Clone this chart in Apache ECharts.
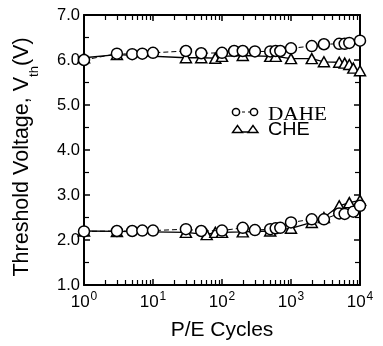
<!DOCTYPE html>
<html>
<head>
<meta charset="utf-8">
<script src="https://cdn.jsdelivr.net/npm/echarts@6/dist/echarts.min.js"></script>
<style>
  html, body { margin: 0; padding: 0; background: #fff; }
  #chart { width: 383px; height: 346px; }
</style>
</head>
<body>
<div id="chart"></div>
<script>
// P/E cycle counts and threshold voltages (V)
const dahePrgX = [1, 3, 5, 7, 10, 30, 50, 100, 150, 200, 300, 500, 600, 700, 1000, 2000, 3000, 5000, 6000, 7000, 10000];
const dahePrgV = [6.0, 6.14, 6.13, 6.14, 6.16, 6.2, 6.15, 6.16, 6.2, 6.2, 6.19, 6.19, 6.2, 6.2, 6.26, 6.31, 6.35, 6.36, 6.36, 6.38, 6.43];
const daheErsX = [1, 3, 5, 7, 10, 30, 50, 100, 200, 300, 500, 600, 700, 1000, 2000, 3000, 5000, 6000, 8000, 10000];
const daheErsV = [2.19, 2.2, 2.2, 2.21, 2.21, 2.24, 2.2, 2.21, 2.27, 2.22, 2.24, 2.26, 2.27, 2.39, 2.46, 2.46, 2.59, 2.58, 2.63, 2.76];
const chePrgX = [1, 3, 30, 50, 80, 100, 200, 500, 600, 1000, 2000, 3000, 5000, 6000, 7000, 8000, 10000];
const chePrgV = [6.05, 6.12, 6.05, 6.05, 6.04, 6.08, 6.1, 6.08, 6.08, 6.03, 6.03, 5.96, 5.95, 5.93, 5.9, 5.82, 5.76];
const cheErsX = [1, 3, 30, 60, 80, 100, 200, 500, 1000, 2000, 3000, 5000, 7000, 10000];
const cheErsV = [2.2, 2.19, 2.17, 2.12, 2.17, 2.17, 2.18, 2.2, 2.26, 2.39, 2.5, 2.76, 2.83, 2.88];

// exponent shown on each decade label
const expLabels = ['0', '1', '2', '3', '4'];

const pairs = (xs, ys) => xs.map((x, i) => [x, ys[i]]);

const chart = echarts.init(document.getElementById('chart'), null, { renderer: 'canvas' });
const ink = '#000';
const sans = 'Liberation Sans, Arial, sans-serif';
const serif = 'Liberation Serif, Times New Roman, serif';

const baseLine = { show: true, lineStyle: { color: ink, width: 2 } };
const majorTick = { show: true, inside: true, length: 6, lineStyle: { color: ink, width: 1.5 } };
const logMinor = { show: true, splitNumber: 9, length: 5, lineStyle: { color: ink, width: 1.2 } };
const linMinor = { show: true, splitNumber: 2, length: 5, lineStyle: { color: ink, width: 1.2 } };

function circleSeries(name, data) {
  return {
    name, type: 'line', xAxisIndex: 0, yAxisIndex: 0, data,
    symbol: 'circle', symbolSize: 11, showSymbol: true,
    lineStyle: { color: ink, width: 1, type: [5, 3] },
    itemStyle: { color: '#fff', borderColor: ink, borderWidth: 1.5 },
    z: 4, animation: false
  };
}
function triSeries(name, data) {
  return {
    name, type: 'line', xAxisIndex: 0, yAxisIndex: 0, data,
    symbol: 'triangle', symbolSize: [11, 10], showSymbol: true,
    lineStyle: { color: ink, width: 1.3 },
    itemStyle: { color: '#fff', borderColor: ink, borderWidth: 1.5 },
    z: 3, animation: false
  };
}

chart.setOption({
  backgroundColor: '#fff',
  animation: false,
  grid: { left: 84, right: 23, top: 15, bottom: 58 },
  xAxis: [
    {
      type: 'log', logBase: 10, min: 1, max: 10000, position: 'bottom',
      name: 'P/E Cycles', nameLocation: 'middle', nameGap: 35,
      nameTextStyle: { fontFamily: sans, fontSize: 21, color: ink },
      axisLine: baseLine,
      axisTick: majorTick,
      minorTick: logMinor,
      splitLine: { show: false }, minorSplitLine: { show: false },
      axisLabel: {
        color: ink, margin: 6,
        formatter: (v) => '{b|10}{s|' + expLabels[Math.round(Math.log10(v))] + '}',
        rich: {
          b: { fontFamily: sans, fontSize: 17, color: ink, verticalAlign: 'bottom' },
          s: { fontFamily: sans, fontSize: 12, color: ink, verticalAlign: 'bottom', padding: [0, 0, 8, 1] }
        }
      }
    },
    {
      type: 'log', logBase: 10, min: 1, max: 10000, position: 'top',
      axisLine: baseLine,
      axisTick: majorTick,
      minorTick: logMinor,
      axisLabel: { show: false }, splitLine: { show: false }, minorSplitLine: { show: false }
    }
  ],
  yAxis: [
    {
      type: 'value', min: 1, max: 7, interval: 1, position: 'left',
      axisLine: baseLine,
      axisTick: majorTick,
      minorTick: linMinor,
      splitLine: { show: false },
      axisLabel: { color: ink, fontFamily: sans, fontSize: 16.5, margin: 4, formatter: (v) => v.toFixed(1) }
    },
    {
      type: 'value', min: 1, max: 7, interval: 1, position: 'right',
      axisLine: baseLine,
      axisTick: majorTick,
      minorTick: linMinor,
      splitLine: { show: false },
      axisLabel: { show: false }
    }
  ],
  series: [
    triSeries('CHE', pairs(chePrgX, chePrgV)),
    triSeries('CHE', pairs(cheErsX, cheErsV)),
    circleSeries('DAHE', pairs(dahePrgX, dahePrgV)),
    circleSeries('DAHE', pairs(daheErsX, daheErsV))
  ],
  graphic: [
    // y-axis title, reading bottom to top, with subscript "th"
    {
      type: 'text', x: 26, y: 157, rotation: Math.PI / 2,
      style: {
        text: '{m|Threshold Voltage, V}{sub|th}{m|(V)}',
        align: 'center', verticalAlign: 'middle',
        rich: {
          m: { fontFamily: sans, fontSize: 21.5, fill: ink, verticalAlign: 'top', lineHeight: 24 },
          sub: { fontFamily: sans, fontSize: 13, fill: ink, verticalAlign: 'bottom', lineHeight: 30 }
        }
      }
    },
    // key: DAHE
    { type: 'line', shape: { x1: 236, y1: 112, x2: 254, y2: 112 }, style: { stroke: ink, lineWidth: 1, lineDash: [3, 3] }, z: 10 },
    { type: 'circle', shape: { cx: 236, cy: 112, r: 3.6 }, style: { fill: '#fff', stroke: ink, lineWidth: 1.5 }, z: 11 },
    { type: 'circle', shape: { cx: 254, cy: 112, r: 3.6 }, style: { fill: '#fff', stroke: ink, lineWidth: 1.5 }, z: 11 },
    { type: 'text', x: 268, y: 115, scaleX: 1.18, style: { text: 'DAHE', font: '18px ' + serif, fill: ink, verticalAlign: 'middle' }, z: 11 },
    // key: CHE
    { type: 'line', shape: { x1: 237, y1: 132, x2: 253, y2: 132 }, style: { stroke: ink, lineWidth: 1.5 }, z: 10 },
    { type: 'polygon', shape: { points: [[237.5, 125.5], [232.5, 132.5], [242.5, 132.5]] }, style: { fill: '#fff', stroke: ink, lineWidth: 1.4 }, z: 11 },
    { type: 'polygon', shape: { points: [[253, 125.5], [248, 132.5], [258, 132.5]] }, style: { fill: '#fff', stroke: ink, lineWidth: 1.4 }, z: 11 },
    { type: 'text', x: 268, y: 130, scaleX: 1.1, style: { text: 'CHE', font: '18px ' + sans, fill: ink, verticalAlign: 'middle' }, z: 11 }
  ]
});
</script>
</body>
</html>
